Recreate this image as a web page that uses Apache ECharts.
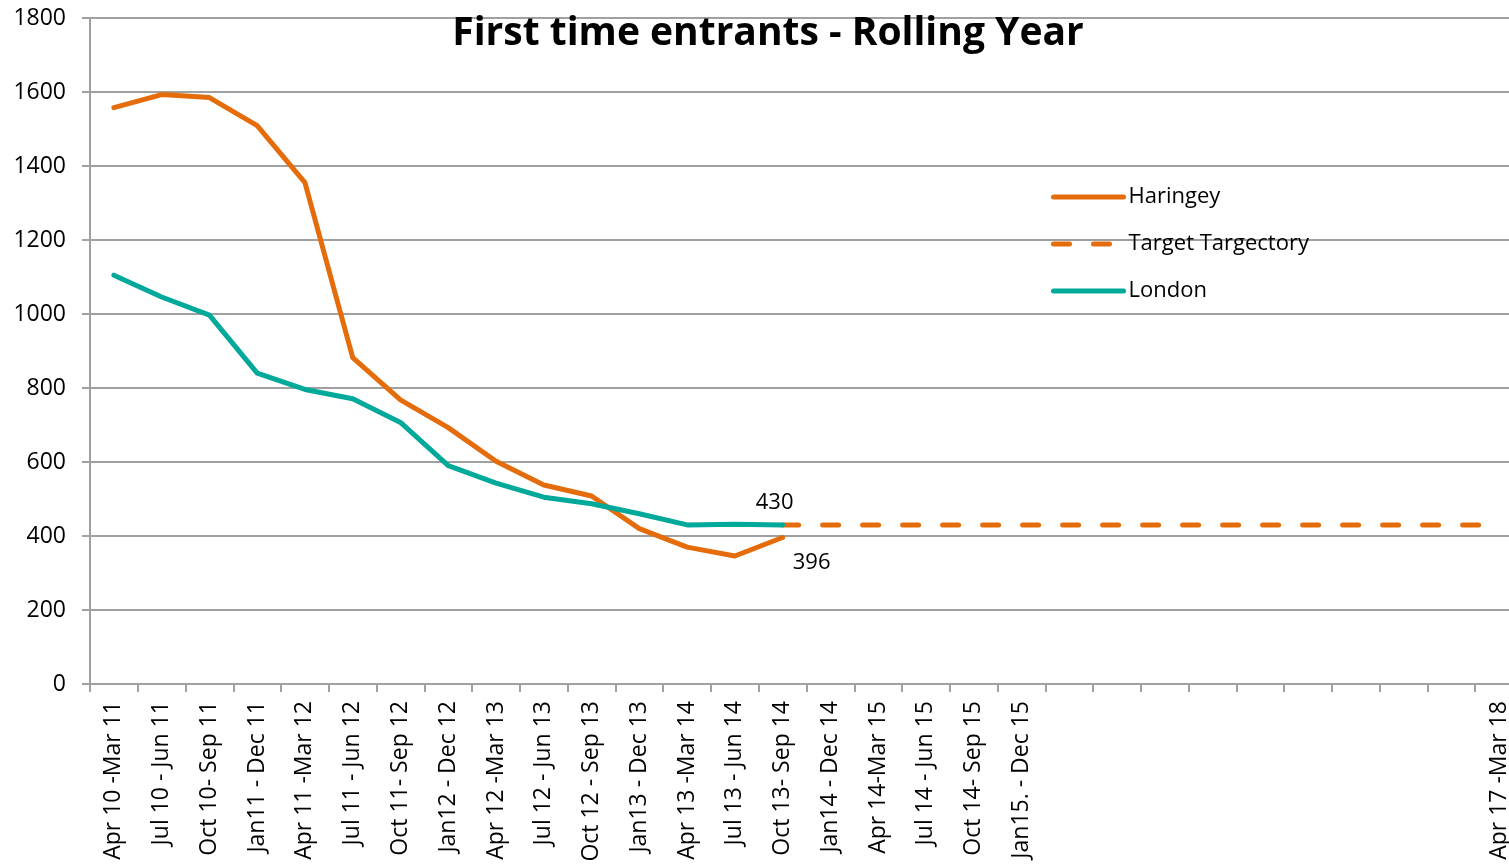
<!DOCTYPE html>
<html>
<head>
<meta charset="utf-8">
<script src="https://cdn.jsdelivr.net/npm/echarts@6/dist/echarts.min.js"></script>
<style>
html,body{margin:0;padding:0;background:#fff;overflow:hidden;width:1509px;height:865px;}
#chart{width:1523px;height:865px;}
</style>
</head>
<body>
<div id="chart"></div>
<script>
const categories = [
  'Apr 10 -Mar 11', 'Jul 10 - Jun 11', 'Oct 10- Sep 11', 'Jan11 - Dec 11',
  'Apr 11 -Mar 12', 'Jul 11 - Jun 12', 'Oct 11- Sep 12', 'Jan12 - Dec 12',
  'Apr 12 -Mar 13', 'Jul 12 - Jun 13', 'Oct 12 - Sep 13', 'Jan13 - Dec 13',
  'Apr 13 -Mar 14', 'Jul 13 - Jun 14', 'Oct 13- Sep 14', 'Jan14 - Dec 14',
  'Apr 14-Mar 15', 'Jul 14 - Jun 15', 'Oct 14- Sep 15', 'Jan15. - Dec 15',
  ' ', '  ', '   ', '    ', '     ', '      ', '       ', '        ', '         ',
  'Apr 17 -Mar 18'
];
const haringey = [1558, 1593, 1585, 1509, 1355, 882, 768, 693, 602, 538, 508, 420, 370, 346, 396];
const london   = [1105, 1046, 997, 840, 796, 771, 707, 590, 543, 505, 487, 460, 430, 432, 430];
const targetStart = 14;
const targetValue = 430;
const target = categories.map((c, i) => (i >= targetStart ? targetValue : '-'));
const yTicks = { min: 0, max: 1800, interval: 200 };

const ORANGE = '#E46C0A';
const TEAL = '#00A99A';
const GRID = '#A0A0A0';
const FONT = 'Open Sans';

function withEndLabel(arr, labelCfg) {
  return arr.map((v, i) => i === arr.length - 1
    ? { value: v, symbol: 'circle', symbolSize: 0.01, label: labelCfg }
    : v);
}

const chart = echarts.init(document.getElementById('chart'), null, { renderer: 'canvas' });
chart.setOption({
  animation: false,
  backgroundColor: '#fff',
  title: {
    text: 'First time entrants - Rolling Year',
    left: 763,
    textAlign: 'center',
    top: 9,
    textStyle: { fontFamily: FONT, fontWeight: 'bold', fontSize: 39, color: '#000' }
  },
  legend: {
    orient: 'vertical',
    left: 1046,
    top: 181,
    itemWidth: 70,
    itemHeight: 20,
    itemGap: 25,
    data: ['Haringey', 'Target Targectory', 'London'],
    itemStyle: { opacity: 0 },
    lineStyle: { width: 5, cap: 'round' },
    textStyle: { fontFamily: FONT, fontSize: 22, color: '#000' }
  },
  grid: { left: 90, right: 0, top: 18, bottom: 181, containLabel: false },
  xAxis: {
    type: 'category',
    data: categories,
    boundaryGap: true,
    axisLine: { show: true, lineStyle: { color: GRID, width: 2 } },
    axisTick: { show: true, interval: 0, length: 8, lineStyle: { color: GRID, width: 2 } },
    axisLabel: {
      interval: 0, rotate: 90, margin: 17,
      fontFamily: FONT, fontSize: 23, color: '#000'
    },
    splitLine: { show: false }
  },
  yAxis: {
    type: 'value',
    min: yTicks.min, max: yTicks.max, interval: yTicks.interval,
    axisLine: { show: true, lineStyle: { color: GRID, width: 2 } },
    axisTick: { show: true, length: 8, lineStyle: { color: GRID, width: 2 } },
    axisLabel: {
      margin: 24, fontFamily: FONT, fontSize: 23, color: '#000',
      formatter: (v) => String(v)
    },
    splitLine: { show: true, lineStyle: { color: GRID, width: 2 } }
  },
  series: [
    {
      name: 'Haringey',
      type: 'line',
      symbol: 'none',
      color: ORANGE,
      lineStyle: { color: ORANGE, width: 5, cap: 'round', join: 'round' },
      data: withEndLabel(haringey, {
        show: true, position: 'bottom', offset: [29, 9],
        fontFamily: FONT, fontSize: 22, color: '#000'
      }),
      z: 2
    },
    {
      name: 'Target Targectory',
      type: 'line',
      symbol: 'none',
      color: ORANGE,
      lineStyle: { color: ORANGE, width: 5, type: [16, 24], cap: 'round' },
      data: target,
      z: 1
    },
    {
      name: 'London',
      type: 'line',
      symbol: 'none',
      color: TEAL,
      lineStyle: { color: TEAL, width: 5, cap: 'round', join: 'round' },
      data: withEndLabel(london, {
        show: true, position: 'top', offset: [-8, -6],
        fontFamily: FONT, fontSize: 22, color: '#000'
      }),
      z: 3
    }
  ]
});
</script>
</body>
</html>
